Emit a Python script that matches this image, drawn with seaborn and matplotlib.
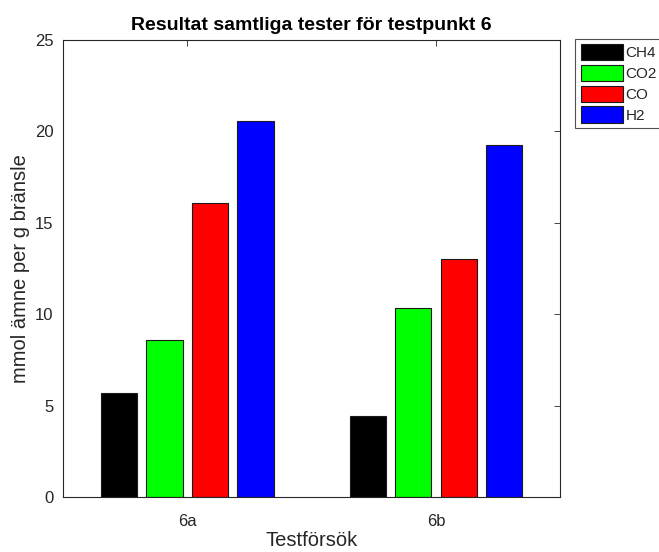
import pandas as pd
import matplotlib
matplotlib.use("Agg")
import matplotlib.pyplot as plt
import seaborn as sns

# values
tests = ["6a", "6b"]
gases = ["CH4", "CO2", "CO", "H2"]
ch4 = [5.68, 4.43]
co2 = [8.58, 10.33]
co = [16.07, 13.0]
h2 = [20.55, 19.23]
colors = ["#000000", "#00ff00", "#ff0000", "#0000ff"]

df = pd.DataFrame({
    "test": tests * 4,
    "gas": [g for g in gases for _ in tests],
    "value": ch4 + co2 + co + h2,
})

sns.set_style("white")
plt.rcParams["font.family"] = ["Liberation Sans", "DejaVu Sans"]
text_col = "#262626"

fig = plt.figure(figsize=(6.59, 5.52), dpi=100)
ax = fig.add_axes([0.0956, 0.0996, 0.7546, 0.8279])

sns.barplot(
    data=df, x="test", y="value", hue="gas",
    order=tests, hue_order=gases,
    palette=dict(zip(gases, colors)),
    width=0.732, gap=0.2,
    edgecolor="#1a1a1a", linewidth=0.8,
    saturation=1, ax=ax,
)

ax.set_xlim(-0.5, 1.5)
ax.set_ylim(0, 25)
ax.set_yticks([0, 5, 10, 15, 20, 25])
ax.tick_params(direction="in", top=True, right=True, length=4,
               width=0.6, colors=text_col, labelsize=12)
ax.tick_params(axis="x", pad=12)
ax.tick_params(axis="y", pad=7)
for s in ax.spines.values():
    s.set_visible(True)
    s.set_color(text_col)
    s.set_linewidth(0.8)

ax.set_title("Resultat samtliga tester för testpunkt 6", fontsize=14,
             fontweight="bold", color="black", pad=7)
ax.set_xlabel("Testförsök", fontsize=14.5, color=text_col, labelpad=2)
ax.set_ylabel("mmol ämne per g bränsle", fontsize=14.5, color=text_col,
              labelpad=3)

leg = ax.legend(loc="upper left", bbox_to_anchor=(1.03, 1.003),
                fontsize=11, frameon=True, fancybox=False,
                handlelength=2.75, handleheight=1.25, labelspacing=0.3,
                handletextpad=0.2, borderpad=0.35, borderaxespad=0)
leg.get_frame().set_edgecolor(text_col)
leg.get_frame().set_linewidth(0.8)

fig.savefig("out.png", dpi=100)
